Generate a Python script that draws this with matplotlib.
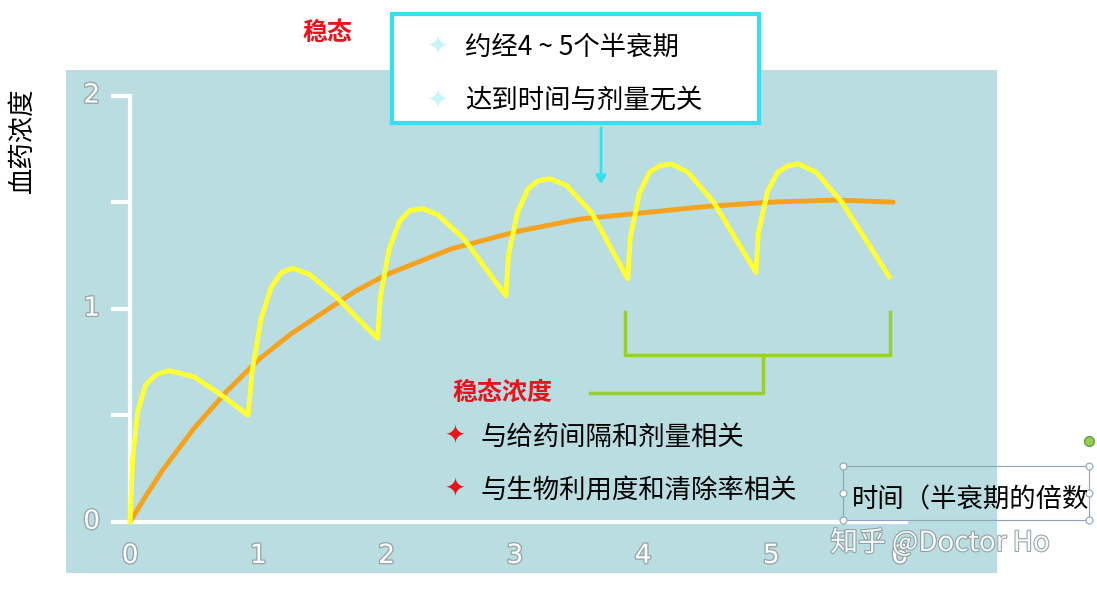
import matplotlib
matplotlib.use("Agg")
import matplotlib.pyplot as plt
import matplotlib.patheffects as pe
from matplotlib.patches import Rectangle, FancyArrowPatch

plt.rcParams['font.family'] = ['Noto Sans CJK SC', 'DejaVu Sans']

# data
orange_t = [0, 0.1, 0.25, 0.5, 0.75, 1.0, 1.25, 1.5, 1.75, 2.0, 2.5, 3.0, 3.5, 4.0, 4.5, 5.0, 5.5, 5.95]
orange_c = [0, 0.1, 0.24, 0.44, 0.61, 0.76, 0.88, 0.98, 1.08, 1.16, 1.28, 1.36, 1.42, 1.45, 1.48, 1.5, 1.51, 1.5]
yellow_t = [0, 0.02, 0.06, 0.12, 0.2, 0.3, 0.5, 0.7, 0.92, 0.95, 1.02, 1.1, 1.18, 1.27, 1.4, 1.6, 1.93,
            1.95, 2.02, 2.1, 2.18, 2.28, 2.4, 2.6, 2.93, 2.95, 3.02, 3.1, 3.18, 3.27, 3.4, 3.6, 3.88,
            3.9, 3.97, 4.05, 4.13, 4.22, 4.35, 4.55, 4.88, 4.9, 4.97, 5.05, 5.13, 5.21, 5.35, 5.55, 5.92]
yellow_c = [0, 0.3, 0.52, 0.64, 0.69, 0.71, 0.68, 0.6, 0.5, 0.7, 0.95, 1.1, 1.17, 1.19, 1.16, 1.06, 0.86,
            1.05, 1.28, 1.41, 1.46, 1.47, 1.44, 1.33, 1.06, 1.25, 1.45, 1.56, 1.6, 1.61, 1.58, 1.45, 1.14,
            1.33, 1.54, 1.64, 1.67, 1.68, 1.64, 1.5, 1.17, 1.36, 1.55, 1.64, 1.67, 1.68, 1.64, 1.5, 1.15]
x_ticks = [0, 1, 2, 3, 4, 5, 6]
y_ticks = [0, 0.5, 1, 1.5, 2]
y_labels = {0: "0", 1: "1", 2: "2"}

W, H = 1097, 590
fig = plt.figure(figsize=(W / 100, H / 100), dpi=100)
fig.patch.set_facecolor("white")

def fx(x): return x / W
def fy(y): return 1 - y / H

ax = fig.add_axes([fx(66), fy(573), (997 - 66) / W, (573 - 70) / H])
ax.set_facecolor("#b9dde1")
ax.set_xlim(-0.5, 6.76)
ax.set_ylim(-0.24, 2.12)
for s in ax.spines.values():
    s.set_visible(False)
ax.set_xticks([]); ax.set_yticks([])

outline = [pe.withStroke(linewidth=2, foreground="#9aa8aa")]
ax.plot([0, 0], [0, 2], color="white", lw=3, solid_capstyle="butt")
ax.plot([0, 6.05], [0, 0], color="white", lw=3)
for v in y_ticks:
    ax.plot([-0.13, 0], [v, v], color="white", lw=3)
    if v in y_labels:
        ax.text(-0.3, v, y_labels[v], color="white", fontsize=19, ha="center", va="center",
                family="DejaVu Sans", path_effects=outline)
for v in x_ticks:
    ax.text(v, -0.16, str(v), color="white", fontsize=19, ha="center", va="center",
            family="DejaVu Sans", path_effects=outline)

ax.plot(orange_t, orange_c, color="#f5a21e", lw=3.5, solid_capstyle="round")
ax.plot(yellow_t, yellow_c, color="#ffff33", lw=3.5, solid_joinstyle="round")

def T(x, y, s, **kw):
    fig.text(fx(x), fy(y), s, **kw)

T(22, 140, "血药浓度", fontsize=19, rotation=90, ha="center", va="center")
T(327, 33, "稳态", fontsize=18, color="#e8141b", fontweight="bold", ha="center", va="center")
fig.patches.append(Rectangle((fx(392), fy(123)), (759 - 392) / W, (123 - 14) / H,
                             transform=fig.transFigure, fill=True, facecolor="white",
                             edgecolor="#33e0ee", lw=3))
T(438, 47, "✦", fontsize=19, color="#c8f4f8", ha="center", va="center")
T(465, 47, "约经4 ~ 5个半衰期", fontsize=19, ha="left", va="center")
T(438, 101, "✦", fontsize=19, color="#c8f4f8", ha="center", va="center")
T(465, 101, "达到时间与剂量无关", fontsize=19, ha="left", va="center")
fig.patches.append(FancyArrowPatch((fx(601), fy(125)), (fx(601), fy(187)),
                                   transform=fig.transFigure, arrowstyle="-|>,head_length=5,head_width=3",
                                   color="#33e0ee", lw=2))

g = "#9acd32"
for xs, ys in [([625, 625, 890, 890], [312, 355, 355, 312]), ([763, 763, 590], [355, 393, 393])]:
    fig.lines.append(plt.Line2D([fx(x) for x in xs], [fy(y) for y in ys],
                                transform=fig.transFigure, color=g, lw=2.5))

T(502, 393, "稳态浓度", fontsize=18, color="#e8141b", fontweight="bold", ha="center", va="center")
T(455, 437, "✦", fontsize=18, color="#e8141b", ha="center", va="center")
T(480, 437, "与给药间隔和剂量相关", fontsize=19, ha="left", va="center")
T(455, 490, "✦", fontsize=18, color="#e8141b", ha="center", va="center")
T(480, 490, "与生物利用度和清除率相关", fontsize=19, ha="left", va="center")

fig.patches.append(Rectangle((fx(843), fy(520)), (1089 - 843) / W, (520 - 466) / H,
                             transform=fig.transFigure, fill=False, edgecolor="#8fa3b8", lw=0.8))
for hx, hy in [(843, 466), (843, 520), (1089, 466), (1089, 520), (843, 493), (1089, 493)]:
    fig.lines.append(plt.Line2D([fx(hx)], [fy(hy)], transform=fig.transFigure, marker="o",
                                ms=5, mfc="white", mec="#8fa3b8", mew=0.8))
fig.lines.append(plt.Line2D([fx(1089)], [fy(441)], transform=fig.transFigure, marker="o",
                            ms=7, mfc="#8fd14f", mec="#6a9a3a"))
T(852, 500, "时间（半衰期的倍数", fontsize=19, ha="left", va="center")
T(940, 543, "知乎 @Doctor Ho", fontsize=20, color="white", ha="center", va="center", alpha=0.9,
  path_effects=[pe.withStroke(linewidth=1.5, foreground="#8a9a9c")])

fig.savefig("out.png", dpi=100)
